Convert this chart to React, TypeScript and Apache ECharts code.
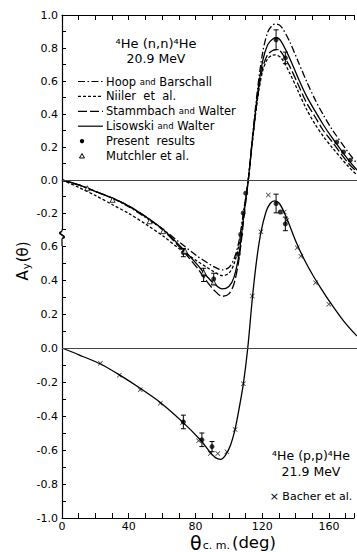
import React, { useEffect, useRef } from 'react';
import * as echarts from 'echarts';

// ---------- data ----------
const X_MIN = 0;
const X_MAX = 175;
const xLabelValues = [0, 40, 80, 120, 160];

// 4He(n,n)4He 20.9 MeV phase-shift predictions [theta, Ay]
const hoopCurve = [[0,0],[10,-0.03],[20,-0.07],[30,-0.11],[40,-0.165],[50,-0.23],[60,-0.3],[70,-0.38],[80,-0.46],[86,-0.5],[90,-0.525],[95,-0.545],[99,-0.53],[102,-0.48],[105,-0.37],[108,-0.17],[110.5,0],[113,0.26],[116,0.55],[119,0.77],[122,0.895],[125,0.94],[127,0.945],[130,0.93],[135,0.84],[140,0.72],[145,0.6],[150,0.49],[155,0.395],[160,0.31],[170,0.165],[175,0.1]];
const niilerCurve = [[0,0],[10,-0.045],[20,-0.095],[30,-0.15],[40,-0.205],[50,-0.27],[60,-0.34],[70,-0.42],[80,-0.49],[86,-0.53],[90,-0.555],[95,-0.58],[99,-0.565],[102,-0.51],[105,-0.39],[108,-0.18],[110.5,0],[113,0.24],[116,0.49],[119,0.66],[122,0.735],[124.5,0.755],[126.5,0.758],[130,0.74],[135,0.65],[140,0.54],[145,0.43],[150,0.34],[155,0.265],[160,0.2],[170,0.08],[175,0.03]];
const stammbachCurve = [[0,0],[10,-0.03],[20,-0.07],[30,-0.11],[40,-0.16],[50,-0.225],[60,-0.305],[70,-0.41],[80,-0.53],[86,-0.616],[90,-0.665],[95,-0.705],[99,-0.69],[102,-0.63],[105,-0.48],[108,-0.22],[110.5,0],[113,0.24],[116,0.5],[119,0.68],[122,0.76],[125,0.785],[127.5,0.79],[130,0.775],[135,0.69],[140,0.58],[145,0.47],[150,0.385],[155,0.3],[160,0.235],[170,0.1],[175,0.05]];
const lisowskiCurve = [[0,0],[10,-0.03],[20,-0.07],[30,-0.11],[40,-0.16],[50,-0.225],[60,-0.3],[70,-0.4],[80,-0.51],[86,-0.585],[90,-0.625],[95,-0.66],[99,-0.645],[102,-0.59],[105,-0.45],[108,-0.2],[110.5,0],[113,0.25],[116,0.52],[119,0.72],[122,0.82],[125,0.855],[127.5,0.862],[130,0.84],[135,0.74],[140,0.62],[145,0.51],[150,0.42],[155,0.335],[160,0.26],[170,0.12],[175,0.06]];

// n,n measured points [theta, Ay, error]
const nnPresent = [[72,-0.44,0.025],[84,-0.575,0.04],[90,-0.6,0.035],[104.5,-0.45,0],[106,-0.33,0],[107.5,-0.2,0],[109,-0.08,0],[127,0.85,0.06],[132.5,0.74,0.035],[163,0.23,0],[167,0.17,0],[171,0.12,0]];
const nnMutchler = [[15,-0.05],[30,-0.12],[52,-0.25],[60,-0.31],[73,-0.43],[84,-0.56],[90,-0.62]];

// 4He(p,p)4He 21.9 MeV
const ppCurve = [[0,0],[10,-0.04],[22.8,-0.094],[33.6,-0.155],[46.4,-0.237],[58.3,-0.32],[71,-0.43],[82,-0.54],[88,-0.615],[91,-0.645],[94,-0.655],[97,-0.63],[100,-0.57],[102.6,-0.48],[105,-0.36],[107.6,-0.21],[110.2,0],[113,0.3],[115.5,0.52],[118,0.68],[121,0.8],[123.5,0.85],[126,0.865],[129,0.85],[133,0.77],[139,0.62],[144,0.515],[149,0.425],[154,0.345],[159,0.27],[167,0.16],[175,0.07]];
const ppBacher = [[22.8,-0.09],[34,-0.16],[46.4,-0.245],[58.3,-0.325],[71.5,-0.44],[81,-0.545],[88,-0.62],[92.4,-0.62],[97.8,-0.61],[102.7,-0.48],[107.6,-0.21],[112.9,0.306],[118,0.684],[122.4,0.9],[131.8,0.8],[133.3,0.75],[139.5,0.59],[141.7,0.54],[150.4,0.384],[158.3,0.257]];
const ppPresent = [[72,-0.435,0.04],[83,-0.54,0.04],[89,-0.58,0.03],[127,0.85,0.055],[129.5,0.8,0],[132.5,0.73,0.04]];

// axis tick ranges
const topPanelTicks = { min: -0.3, max: 1.0, step: 0.1 };
const bottomPanelTicks = { min: -1.0, max: 0.6, step: 0.1 };

// ---------- layout ----------
const LEFT = 62;
const WIDTH = 295;
const TOP = 15;
const BOTTOM = 518;
const K_NN = 165; // px per unit, n,n scale
const K_PP = 170; // px per unit, p,p scale
const FONT = 'DejaVu Sans';

const legendRows = [
  { text: '{m|Hoop }{s|and}{m| Barschall}', kind: 'line', dash: [7, 2.5, 1.5, 2.5] },
  { text: '{m|Niiler  et  al.}', kind: 'line', dash: [3, 2] },
  { text: '{m|Stammbach }{s|and}{m| Walter}', kind: 'line', dash: [9, 3] },
  { text: '{m|Lisowski }{s|and}{m| Walter}', kind: 'line', dash: null },
  { text: '{m|Present  results}', kind: 'dot', dash: null },
  { text: '{m|Mutchler et al.}', kind: 'tri', dash: null },
];

const xMark = 'path://M0,1L1,0L5,4L9,0L10,1L6,5L10,9L9,10L5,6L1,10L0,9L4,5Z';

function errorBarSeries(data: number[][], xi: number, yi: number) {
  return {
    type: 'custom',
    xAxisIndex: xi,
    yAxisIndex: yi,
    data: data.filter((d) => d[2] > 0),
    encode: { x: 0, y: 1 },
    silent: true,
    z: 4,
    renderItem: (params: any, api: any) => {
      const x = api.value(0);
      const y = api.value(1);
      const e = api.value(2);
      const t = api.coord([x, y + e]);
      const b = api.coord([x, y - e]);
      const c = 2.5;
      const st = { stroke: '#000', lineWidth: 1 };
      return {
        type: 'group',
        children: [
          { type: 'line', shape: { x1: t[0], y1: t[1], x2: b[0], y2: b[1] }, style: st },
          { type: 'line', shape: { x1: t[0] - c, y1: t[1], x2: t[0] + c, y2: t[1] }, style: st },
          { type: 'line', shape: { x1: b[0] - c, y1: b[1], x2: b[0] + c, y2: b[1] }, style: st },
        ],
      };
    },
  };
}

function curve(name: string, data: number[][], dash: any, xi: number, yi: number) {
  return {
    name,
    type: 'line',
    xAxisIndex: xi,
    yAxisIndex: yi,
    data,
    smooth: 0.3,
    showSymbol: false,
    symbol: 'none',
    silent: true,
    lineStyle: { color: '#000', width: 1.3, type: dash || 'solid' },
    z: 3,
  };
}

function panelLabel(v: number) {
  const r = Math.round(v * 10);
  if (r % 2 !== 0) return '';
  return (r / 10).toFixed(1);
}

export default function App() {
  const ref = useRef<HTMLDivElement>(null);
  useEffect(() => {
    if (!ref.current) return;
    const chart = echarts.init(ref.current, undefined, { renderer: 'svg' });

    const hTop = (topPanelTicks.max - topPanelTicks.min) * K_NN;
    const hBot = (bottomPanelTicks.max - bottomPanelTicks.min) * K_PP;
    const nnMin = -2, nnMax = 1;
    const ppMin = -1, ppMax = 2;
    const hNN = (nnMax - nnMin) * K_NN;
    const hPP = (ppMax - ppMin) * K_PP;

    const hiddenX = (gi: number) => ({
      type: 'value', gridIndex: gi, min: X_MIN, max: X_MAX, show: false,
    });
    const visibleXBase = {
      type: 'value', gridIndex: 0, min: X_MIN, max: X_MAX, interval: 10,
      axisLine: { show: true, onZero: false, lineStyle: { color: '#000', width: 1.2 } },
      axisTick: { show: true, inside: true, length: 5, lineStyle: { color: '#000', width: 1 } },
      splitLine: { show: false },
    };
    const panelY = (gi: number, p: { min: number; max: number; step: number }) => ({
      type: 'value', gridIndex: gi, min: p.min, max: p.max, interval: p.step,
      axisLine: { show: true, onZero: false, lineStyle: { color: '#000', width: 1.2 } },
      axisTick: { show: true, inside: true, length: 4, lineStyle: { color: '#000', width: 1 } },
      axisLabel: {
        show: true, margin: 4, formatter: panelLabel,
        color: '#000', fontFamily: FONT, fontSize: 11,
        showMinLabel: true, showMaxLabel: true,
      },
      splitLine: { show: false },
    });

    const yTopEnd = TOP + hTop;
    const yBotStart = BOTTOM - hBot;
    const brkA = yTopEnd + 2;
    const brkB = brkA + 7;

    const graphics: any[] = [
      // axis break
      { type: 'line', shape: { x1: LEFT, y1: yTopEnd, x2: LEFT, y2: brkA }, style: { stroke: '#000', lineWidth: 1.2 } },
      { type: 'bezierCurve', shape: { x1: LEFT, y1: brkA, cpx1: LEFT - 8, cpy1: brkA + 2, cpx2: LEFT + 8, cpy2: brkB - 2, x2: LEFT, y2: brkB }, style: { stroke: '#000', lineWidth: 1.6, fill: 'none' } },
      { type: 'line', shape: { x1: LEFT, y1: brkB, x2: LEFT, y2: yBotStart }, style: { stroke: '#000', lineWidth: 1.2 } },
      // titles
      { type: 'text', x: 156, y: 43, style: { text: '⁴He (n,n)⁴He', fontFamily: FONT, fontSize: 13, fill: '#000', textAlign: 'center', textVerticalAlign: 'middle' } },
      { type: 'text', x: 156, y: 58, style: { text: '20.9 MeV', fontFamily: FONT, fontSize: 12.5, fill: '#000', textAlign: 'center', textVerticalAlign: 'middle' } },
      { type: 'text', x: 311, y: 455, style: { text: '⁴He (p,p)⁴He', fontFamily: FONT, fontSize: 12.5, fill: '#000', textAlign: 'center', textVerticalAlign: 'middle' } },
      { type: 'text', x: 311, y: 471, style: { text: '21.9 MeV', fontFamily: FONT, fontSize: 12.5, fill: '#000', textAlign: 'center', textVerticalAlign: 'middle' } },
      { type: 'text', x: 311, y: 496, style: { text: '× Bacher et al.', fontFamily: FONT, fontSize: 11, fill: '#000', textAlign: 'center', textVerticalAlign: 'middle' } },
      // axis titles
      {
        type: 'text', x: 23, y: 261, rotation: Math.PI / 2,
        style: {
          text: '{a|A}{s|y}{a|(θ)}', textAlign: 'center', textVerticalAlign: 'middle', fill: '#000',
          rich: {
            a: { fontFamily: FONT, fontSize: 15, verticalAlign: 'middle' },
            s: { fontFamily: FONT, fontSize: 10, verticalAlign: 'bottom', padding: [6, 1, 0, 1] },
          },
        },
      },
      {
        type: 'text', x: 233, y: 542.5,
        style: {
          text: '{a|θ}{s|c. m.}{b|(deg)}', textAlign: 'center', textVerticalAlign: 'middle', fill: '#000',
          rich: {
            a: { fontFamily: FONT, fontSize: 19, lineHeight: 17, verticalAlign: 'middle' },
            s: { fontFamily: FONT, fontSize: 11, lineHeight: 11, verticalAlign: 'bottom', padding: [5, 2, 0, 1] },
            b: { fontFamily: FONT, fontSize: 16.5, lineHeight: 17, verticalAlign: 'middle' },
          },
        },
      },
    ];

    const rowY0 = 81.5;
    const rowDy = 14.9;
    legendRows.forEach((r, i) => {
      const y = rowY0 + i * rowDy;
      if (r.kind === 'line') {
        graphics.push({ type: 'line', shape: { x1: 78, y1: y, x2: 103, y2: y }, style: { stroke: '#000', lineWidth: 1.2, lineDash: r.dash || undefined } });
      } else if (r.kind === 'dot') {
        graphics.push({ type: 'circle', shape: { cx: 82, cy: y, r: 2.2 }, style: { fill: '#000' } });
      } else {
        graphics.push({ type: 'polygon', shape: { points: [[82, y - 2.5], [79.5, y + 2], [84.5, y + 2]] }, style: { fill: '#fff', stroke: '#000', lineWidth: 1 } });
      }
      graphics.push({
        type: 'text', x: 106, y,
        style: {
          text: r.text, textAlign: 'left', textVerticalAlign: 'middle', fill: '#000',
          rich: {
            m: { fontFamily: FONT, fontSize: 11.5 },
            s: { fontFamily: FONT, fontSize: 8.5 },
          },
        },
      });
    });

    const option: any = {
      animation: false,
      backgroundColor: '#fff',
      grid: [
        { left: LEFT, top: TOP, width: WIDTH, height: BOTTOM - TOP },
        { left: LEFT, top: TOP, width: WIDTH, height: hTop },
        { left: LEFT, top: yBotStart, width: WIDTH, height: hBot },
        { left: LEFT, top: TOP, width: WIDTH, height: hNN },
        { left: LEFT, top: BOTTOM - hPP, width: WIDTH, height: hPP },
      ],
      xAxis: [
        {
          ...visibleXBase, position: 'bottom',
          axisLabel: {
            show: true, margin: 3, color: '#000', fontFamily: FONT, fontSize: 11,
            formatter: (v: number) => (xLabelValues.includes(v) ? String(v) : ''),
          },
        },
        { ...visibleXBase, position: 'top', axisLabel: { show: false } },
        hiddenX(1),
        hiddenX(2),
        hiddenX(3),
        hiddenX(4),
      ],
      yAxis: [
        { type: 'value', gridIndex: 0, min: 0, max: 1, show: false },
        panelY(1, topPanelTicks),
        panelY(2, bottomPanelTicks),
        { type: 'value', gridIndex: 3, min: nnMin, max: nnMax, show: false },
        { type: 'value', gridIndex: 4, min: ppMin, max: ppMax, show: false },
      ],
      series: [
        {
          ...curve('Hoop and Barschall', hoopCurve, [7, 2.5, 1.5, 2.5], 4, 3),
          markLine: {
            silent: true, symbol: 'none', label: { show: false },
            lineStyle: { color: '#444', width: 1, type: 'solid' },
            data: [{ yAxis: 0 }],
          },
        },
        curve('Niiler et al.', niilerCurve, [3, 2], 4, 3),
        curve('Stammbach and Walter', stammbachCurve, [9, 3], 4, 3),
        curve('Lisowski and Walter', lisowskiCurve, null, 4, 3),
        errorBarSeries(nnPresent, 4, 3),
        {
          name: 'Present results', type: 'scatter', xAxisIndex: 4, yAxisIndex: 3,
          data: nnPresent.map((d) => [d[0], d[1]]), symbol: 'circle', symbolSize: 5,
          itemStyle: { color: '#000' }, silent: true, z: 5,
        },
        {
          name: 'Mutchler et al.', type: 'scatter', xAxisIndex: 4, yAxisIndex: 3,
          data: nnMutchler, symbol: 'triangle', symbolSize: 5,
          itemStyle: { color: '#fff', borderColor: '#000', borderWidth: 1 }, silent: true, z: 5,
        },
        {
          ...curve('p,p fit', ppCurve, null, 5, 4),
          markLine: {
            silent: true, symbol: 'none', label: { show: false },
            lineStyle: { color: '#444', width: 1, type: 'solid' },
            data: [{ yAxis: 0 }],
          },
        },
        {
          name: 'Bacher et al.', type: 'scatter', xAxisIndex: 5, yAxisIndex: 4,
          data: ppBacher, symbol: xMark, symbolSize: 5,
          itemStyle: { color: '#000' }, silent: true, z: 5,
        },
        errorBarSeries(ppPresent, 5, 4),
        {
          name: 'Present results (p,p)', type: 'scatter', xAxisIndex: 5, yAxisIndex: 4,
          data: ppPresent.map((d) => [d[0], d[1]]), symbol: 'circle', symbolSize: 5,
          itemStyle: { color: '#000' }, silent: true, z: 5,
        },
      ],
      graphic: graphics,
    };
    chart.setOption(option);
    return () => chart.dispose();
  }, []);
  return (
    <div
      ref={ref}
      style={{ position: 'absolute', left: 0, top: 0, width: 357, height: 552, background: '#fff' }}
    />
  );
}
